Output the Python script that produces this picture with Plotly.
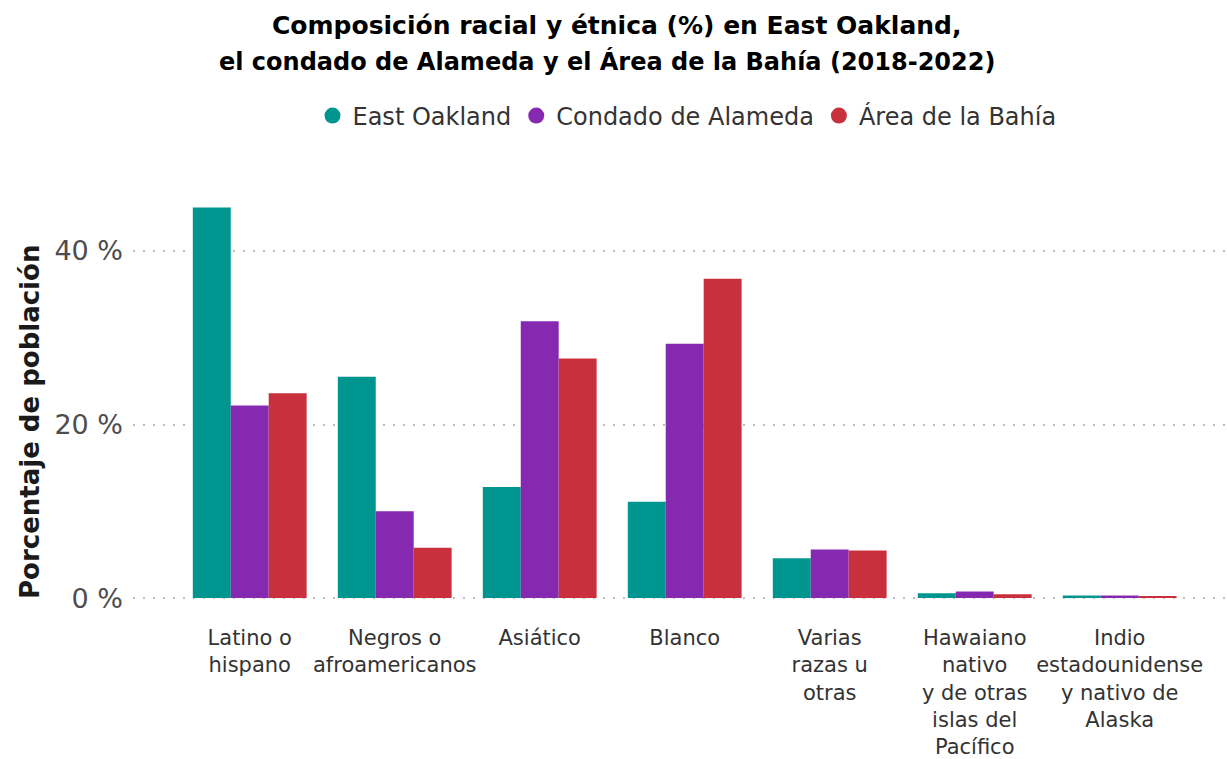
import plotly.graph_objects as go

categories = [
    "Latino o<br>hispano",
    "Negros o<br>afroamericanos",
    "Asiático",
    "Blanco",
    "Varias<br>razas u<br>otras",
    "Hawaiano<br>nativo<br>y de otras<br>islas del<br>Pacífico",
    "Indio<br>estadounidense<br>y nativo de<br>Alaska",
]
east_oakland = [45.0, 25.5, 12.8, 11.1, 4.6, 0.55, 0.3]
condado_alameda = [22.2, 10.0, 31.9, 29.3, 5.6, 0.75, 0.3]
area_bahia = [23.6, 5.8, 27.6, 36.8, 5.5, 0.45, 0.25]

series_names = ["East Oakland", "Condado de Alameda", "Área de la Bahía"]
series_values = [east_oakland, condado_alameda, area_bahia]
colors = ["#00968F", "#8629B1", "#C9303E"]

title_lines = [
    "Composición racial y étnica (%) en East Oakland,",
    "el condado de Alameda y el Área de la Bahía (2018-2022)",
]

W, H = 1227, 759
M_L, M_R, M_T, M_B = 133, 0, 185, 147
PLOT_W = W - M_L - M_R
PLOT_H = H - M_T - M_B


def px_x(x):
    """pixel x -> paper x"""
    return (x - M_L) / PLOT_W


def px_y(y):
    """pixel y (from top) -> paper y"""
    return (H - M_B - y) / PLOT_H


FONT = "DejaVu Sans, Liberation Sans, Arial, sans-serif"

fig = go.Figure()
for name, vals, col in zip(series_names, series_values, colors):
    fig.add_trace(go.Bar(
        x=categories, y=vals, name=name,
        marker=dict(color=col, line=dict(width=0)),
        showlegend=False,
    ))
    # round legend key
    fig.add_trace(go.Scatter(
        x=[None], y=[None], mode="markers", name=name,
        marker=dict(color=col, size=16, symbol="circle"),
    ))

for line, ypix, xpix, fsize in zip(title_lines, [25, 62], [616, 607], [25, 24]):
    fig.add_annotation(
        text=f"<b>{line}</b>", xref="paper", yref="paper",
        x=px_x(xpix), y=px_y(ypix), xanchor="center", yanchor="middle",
        showarrow=False, font=dict(size=fsize, color="#000000", family=FONT),
    )

fig.add_annotation(
    text="<b>Porcentaje de población</b>", xref="paper", yref="paper",
    x=px_x(30), y=px_y(422), xanchor="center", yanchor="middle",
    textangle=-90, showarrow=False,
    font=dict(size=26, color="#1a1a1a", family=FONT),
)

fig.update_layout(
    width=W, height=H,
    margin=dict(l=M_L, r=M_R, t=M_T, b=M_B),
    plot_bgcolor="white", paper_bgcolor="white",
    barmode="group", bargap=0.215, bargroupgap=0,
    font=dict(family=FONT, color="#333333"),
    legend=dict(
        orientation="h", x=px_x(687), xanchor="center",
        y=px_y(116), yanchor="middle",
        font=dict(size=24, color="#333333"), itemsizing="trace",
        traceorder="normal",
    ),
    xaxis=dict(
        range=[-0.805, 6.74], showgrid=False, zeroline=False, showline=False,
        ticks="", tickfont=dict(size=21, color="#333333"),
        ticklabelstandoff=11,
    ),
    yaxis=dict(
        range=[-1.6, 47.6], tickvals=[0, 20, 40], ticktext=["0 %", "20 %", "40 %"],
        showgrid=True, gridcolor="#BDBDBD", griddash="2px,8px", gridwidth=2,
        zeroline=False, showline=False, ticks="",
        tickfont=dict(size=27, color="#4D4D4D"), ticklabelstandoff=9,
    ),
)

fig.write_html("out.html")
